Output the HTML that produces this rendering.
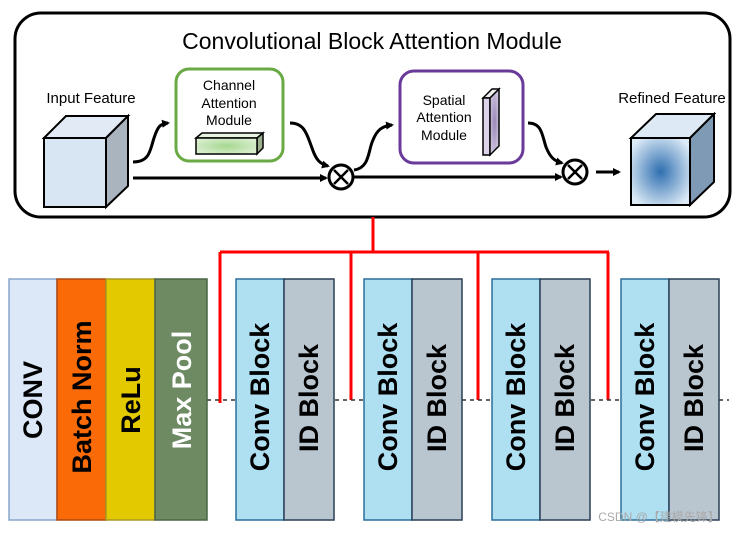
<!DOCTYPE html>
<html><head><meta charset="utf-8"><style>
body{margin:0;background:#fff}
svg text{font-family:"Liberation Sans","DejaVu Sans",sans-serif}
</style></head><body>
<svg width="738" height="530" viewBox="0 0 738 530" xmlns="http://www.w3.org/2000/svg">
<defs>
<marker id="ah" markerWidth="8" markerHeight="8" refX="6" refY="4" orient="auto" markerUnits="userSpaceOnUse"><path d="M0,0 L8,4 L0,8 Z" fill="#000"/></marker>
<radialGradient id="rg" cx="0.5" cy="0.5" r="0.6"><stop offset="0" stop-color="#2f6fb0"/><stop offset="1" stop-color="#dceaf6"/></radialGradient>
<radialGradient id="gg" cx="0.5" cy="0.5" r="0.6"><stop offset="0" stop-color="#a6d890"/><stop offset="1" stop-color="#dcefd2"/></radialGradient>
<radialGradient id="pg" cx="0.5" cy="0.5" r="0.6"><stop offset="0" stop-color="#9a86b8"/><stop offset="1" stop-color="#d6cde3"/></radialGradient>
</defs>
<rect x="15" y="13" width="715" height="204" rx="26" fill="#fff" stroke="#000" stroke-width="3"/>
<text x="372" y="49" font-size="23" text-anchor="middle">Convolutional Block Attention Module</text>
<text x="91" y="103" font-size="15" text-anchor="middle">Input Feature</text>
<!-- input cube -->
<polygon points="44,138 66,116 128,116 106,138" fill="#e2ebf5" stroke="#000" stroke-width="2"/>
<polygon points="106,138 128,116 128,186 106,207" fill="#aab4bf" stroke="#000" stroke-width="2"/>
<rect x="44" y="138" width="62" height="69" fill="#d8e6f4" stroke="#000" stroke-width="2"/>
<!-- green -->
<rect x="176" y="69" width="107" height="92" rx="13" fill="#fff" stroke="#6aaa44" stroke-width="3"/>
<text x="229" y="90" font-size="14" text-anchor="middle">Channel</text>
<text x="229" y="108" font-size="14" text-anchor="middle">Attention</text>
<text x="229" y="125" font-size="14" text-anchor="middle">Module</text>
<polygon points="196,138 202,133 263,133 257,138" fill="#e8f4e0" stroke="#000" stroke-width="1.5"/>
<polygon points="257,138 263,133 263,148 257,154" fill="#9cb090" stroke="#000" stroke-width="1.5"/>
<rect x="196" y="138" width="61" height="16" fill="url(#gg)" stroke="#000" stroke-width="1.5"/>
<!-- arrows -->
<path d="M133,162 C150,162 150,150 154,138 C158,126 160,124 168,123" fill="none" stroke="#000" stroke-width="3" marker-end="url(#ah)"/>
<path d="M290,123 C305,123 307,135 312,148 C316,160 320,164 328,166" fill="none" stroke="#000" stroke-width="3" marker-end="url(#ah)"/>
<line x1="133" y1="178" x2="326" y2="178" stroke="#000" stroke-width="3" marker-end="url(#ah)"/>
<circle cx="341" cy="177" r="12" fill="#fff" stroke="#000" stroke-width="3"/>
<path d="M334,170 L348,184 M348,170 L334,184" stroke="#000" stroke-width="2.5"/>
<path d="M354,170 C370,168 368,150 373,140 C377,130 382,126 392,125" fill="none" stroke="#000" stroke-width="3" marker-end="url(#ah)"/>
<line x1="354" y1="177" x2="561" y2="177" stroke="#000" stroke-width="3" marker-end="url(#ah)"/>
<!-- purple -->
<rect x="400" y="71" width="123" height="92" rx="14" fill="#fff" stroke="#6a3a9a" stroke-width="3"/>
<text x="444" y="105" font-size="14" text-anchor="middle">Spatial</text>
<text x="444" y="122" font-size="14" text-anchor="middle">Attention</text>
<text x="444" y="140" font-size="14" text-anchor="middle">Module</text>
<polygon points="483,98 492,89 499,89 490,98" fill="#eee" stroke="#000" stroke-width="1.5"/>
<rect x="483" y="98" width="7" height="57" fill="#dcd2ea" stroke="#000" stroke-width="1.5"/>
<polygon points="490,98 499,89 499,146 490,155" fill="url(#pg)" stroke="#000" stroke-width="1.5"/>
<path d="M528,123 C542,123 542,135 546,147 C550,157 554,161 562,163" fill="none" stroke="#000" stroke-width="3" marker-end="url(#ah)"/>
<circle cx="575" cy="172" r="12" fill="#fff" stroke="#000" stroke-width="3"/>
<path d="M568,165 L582,179 M582,165 L568,179" stroke="#000" stroke-width="2.5"/>
<line x1="596" y1="172" x2="619" y2="172" stroke="#000" stroke-width="3" marker-end="url(#ah)"/>
<text x="672" y="103" font-size="15" text-anchor="middle">Refined Feature</text>
<polygon points="631,138 656,114 714,114 690,138" fill="#dde9f4" stroke="#000" stroke-width="2"/>
<polygon points="690,138 714,114 714,182 690,205" fill="#7e9ab4" stroke="#000" stroke-width="2"/>
<rect x="631" y="138" width="59" height="67" fill="url(#rg)" stroke="#000" stroke-width="2"/>
<!-- red connectors -->
<path d="M373,217 V252 M220,252 H609 M220,252 V403 M351,252 V400 M478,252 V400 M608,252 V400" fill="none" stroke="#f00" stroke-width="3"/>
<g stroke="#333" stroke-width="1.5" stroke-dasharray="4,4">
<line x1="207" y1="400" x2="236" y2="400"/><line x1="335" y1="400" x2="364" y2="400"/><line x1="462" y1="400" x2="492" y2="400"/><line x1="591" y1="400" x2="621" y2="400"/><line x1="719" y1="400" x2="729" y2="400"/>
</g>
<!-- bottom blocks -->
<rect x="9" y="279" width="48" height="241" fill="#dce8f8" stroke="#8aa6cc" stroke-width="1.5"/>
<rect x="57" y="279" width="49" height="241" fill="#fa6a06" stroke="#b04a10" stroke-width="1.5"/>
<rect x="106" y="279" width="49" height="241" fill="#e2c900" stroke="#a89a20" stroke-width="1.5"/>
<rect x="155" y="279" width="52" height="241" fill="#6d8a63" stroke="#4a6445" stroke-width="1.5"/>
<g font-weight="bold" font-size="27" text-anchor="middle">
<text transform="translate(42,400) rotate(-90)">CONV</text>
<text transform="translate(91,397) rotate(-90)">Batch Norm</text>
<text transform="translate(140,400) rotate(-90)">ReLu</text>
<text transform="translate(191,390) rotate(-90)" fill="#fff">Max Pool</text>
</g>
<g id="blk">
<rect x="236" y="279" width="48" height="241" fill="#aee0f2" stroke="#2a6f9a" stroke-width="1.5"/>
<rect x="284" y="279" width="50" height="241" fill="#b9c6d0" stroke="#2a3f55" stroke-width="1.5"/>
<text transform="translate(269,397) rotate(-90)" font-weight="bold" font-size="27" text-anchor="middle">Conv Block</text>
<text transform="translate(318,398) rotate(-90)" font-weight="bold" font-size="27" text-anchor="middle">ID Block</text>
</g>
<use href="#blk" x="128"/>
<use href="#blk" x="256"/>
<use href="#blk" x="385"/>
<text x="659" y="521" font-size="12" fill="#aaa" text-anchor="middle" font-family="Liberation Sans,Noto Sans CJK SC,sans-serif">CSDN @【建模先锋】</text>
</svg>
</body></html>
